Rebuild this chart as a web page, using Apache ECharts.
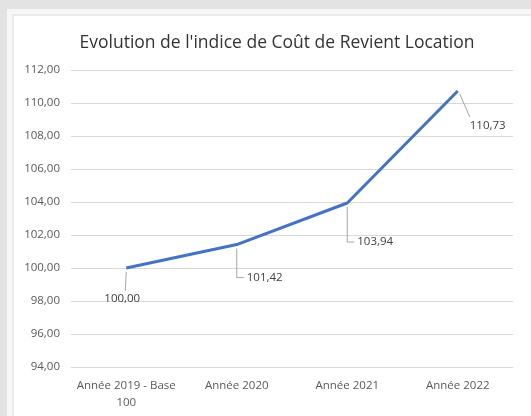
<!DOCTYPE html>
<html>
<head>
<meta charset="utf-8">
<script src="https://cdn.jsdelivr.net/npm/echarts@6/dist/echarts.min.js"></script>
<style>
  html, body { margin: 0; padding: 0; background: #e3e3e3; }
  #chart { width: 531px; height: 416px; }
</style>
</head>
<body>
<div id="chart"></div>
<script>
// données
const categories = ['Année 2019 - Base\n100', 'Année 2020', 'Année 2021', 'Année 2022'];
const indexValues = [100.00, 101.42, 103.94, 110.73];
const yMin = 94;
const yMax = 112;
const yStep = 2;

// placement des étiquettes par rapport au point : texte [dx, dy, align] et trait de rappel
const labelPos = [[-4, 31, 'center'], [10, 33, 'left'], [10, 39, 'left'], [12, 35, 'left']];
const leaderPaths = [
    [[0, 4], [-1, 23]],
    [[0, 4], [0, 33], [7, 33]],
    [[0, 4], [0, 39], [7, 39]],
    [[2, 3], [12, 26]]
];

const fmt = v => v.toFixed(2).replace('.', ',');
const font = 'Open Sans';

const chart = echarts.init(document.getElementById('chart'), null, { renderer: 'canvas' });

function renderLabel(params, api) {
    const i = params.dataIndex;
    const p = api.coord([api.value(0), api.value(1)]);
    const pts = leaderPaths[i].map(d => [p[0] + d[0], p[1] + d[1]]);
    const lp = labelPos[i];
    return {
        type: 'group',
        children: [
            { type: 'polyline', shape: { points: pts }, style: { stroke: '#a6a6a6', lineWidth: 1, fill: null } },
            {
                type: 'text',
                x: p[0] + lp[0],
                y: p[1] + lp[1],
                style: {
                    text: fmt(api.value(1)),
                    fill: '#404040',
                    font: '11.5px "' + font + '"',
                    align: lp[2],
                    verticalAlign: 'middle'
                }
            }
        ]
    };
}

const option = {
    backgroundColor: '#e3e3e3',
    animation: false,
    graphic: [
        { type: 'rect', shape: { x: 7, y: 9, width: 530, height: 410 }, style: { fill: '#f7f7f7' }, z: -10 },
        { type: 'rect', shape: { x: 13, y: 15, width: 530, height: 410 }, style: { fill: '#ffffff', stroke: '#dcdcdc', lineWidth: 1 }, z: -9 }
    ],
    title: {
        text: "Evolution de l'indice de Coût de Revient Location",
        left: 272,
        top: 29,
        textAlign: 'center',
        textStyle: { fontFamily: font, fontSize: 17.5, fontWeight: 'normal', color: '#333333' }
    },
    grid: { left: 71, right: 18, top: 70, bottom: 49 },
    xAxis: {
        type: 'category',
        data: categories,
        boundaryGap: true,
        axisLine: { show: true, lineStyle: { color: '#d9d9d9' } },
        axisTick: { show: false },
        axisLabel: { interval: 0, fontFamily: font, fontSize: 11.5, color: '#595959', margin: 10, lineHeight: 17 }
    },
    yAxis: {
        type: 'value',
        min: yMin,
        max: yMax,
        interval: yStep,
        axisLine: { show: false },
        axisTick: { show: false },
        splitLine: { lineStyle: { color: '#d9d9d9' } },
        axisLabel: { fontFamily: font, fontSize: 11.5, color: '#595959', margin: 11, formatter: v => fmt(v) }
    },
    series: [
        {
            type: 'line',
            data: indexValues,
            symbol: 'none',
            lineStyle: { color: '#4472c4', width: 3 },
            z: 3
        },
        {
            type: 'custom',
            data: indexValues.map((v, i) => [i, v]),
            renderItem: renderLabel,
            z: 2
        }
    ]
};
chart.setOption(option);
</script>
</body>
</html>
